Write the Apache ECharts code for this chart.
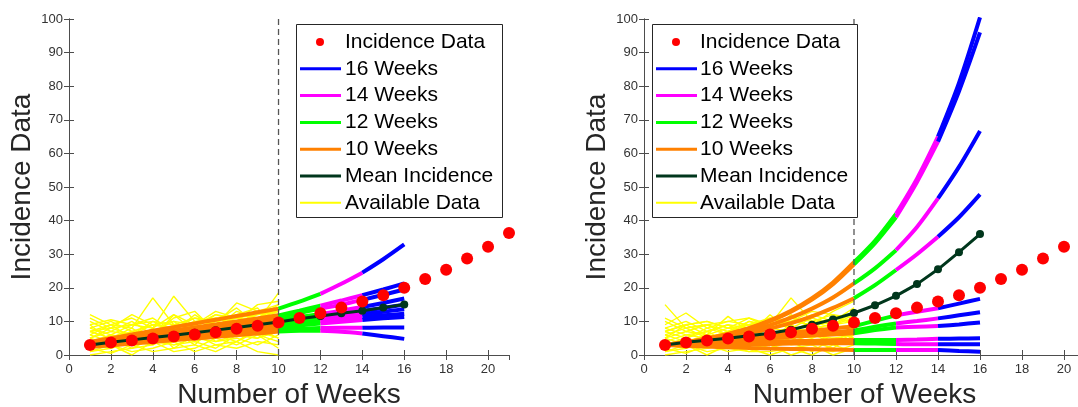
<!DOCTYPE html>
<html>
<head>
<meta charset="utf-8">
<script src="https://cdn.jsdelivr.net/npm/echarts@6/dist/echarts.min.js"></script>
<style>html,body{margin:0;padding:0;background:#fff}#c{width:1078px;height:407px}</style>
</head>
<body>
<div id="c"></div>
<script>
// ---------- data ----------
const weeks = [1,2,3,4,5,6,7,8,9,10,11,12,13,14,15,16,17,18,19,20,21];
const incidence = [3.0,3.7,4.3,4.9,5.5,6.1,6.8,7.8,8.7,9.7,11.0,12.4,14.1,15.9,17.8,20.0,22.6,25.4,28.7,32.2,36.3];
const meanLeft  = [3.0,3.8,4.5,5.2,5.9,6.6,7.4,8.2,9.0,9.8,10.8,11.6,12.4,13.2,14.1,15.0];
const meanRight = [3.0,3.8,4.4,5.0,5.7,6.5,7.5,9.0,10.6,12.5,14.8,17.6,21.1,25.5,30.6,36.0];

// forecast ensemble curves, values for weeks 1..16
const curvesLeft = [
  [3.9,5.0,6.1,7.2,8.3,9.4,10.5,11.6,12.7,13.8,15.9,18.2,21.2,24.5,28.5,32.9],
  [3.6,4.6,5.5,6.4,7.3,8.2,9.1,10.0,10.9,11.8,13.2,14.7,16.2,17.8,19.5,21.3],
  [3.5,4.4,5.3,6.2,7.0,7.9,8.8,9.6,10.5,11.3,12.5,13.8,15.0,16.4,17.9,19.5],
  [3.3,4.1,4.9,5.7,6.5,7.3,8.0,8.8,9.6,10.4,11.3,12.2,13.2,14.3,15.5,16.8],
  [3.2,3.9,4.6,5.4,6.1,6.8,7.6,8.3,9.0,9.8,10.6,11.4,12.2,13.1,14.0,15.0],
  [3.1,3.8,4.5,5.2,5.9,6.6,7.3,8.0,8.7,9.4,10.1,10.8,11.5,12.2,12.9,13.6],
  [3.0,3.7,4.3,5.0,5.6,6.3,6.9,7.6,8.2,8.9,9.5,10.1,10.7,11.3,11.8,12.3],
  [2.8,3.4,4.0,4.6,5.2,5.8,6.4,7.0,7.6,8.2,8.8,9.4,9.9,10.4,10.9,11.3],
  [2.6,3.1,3.7,4.2,4.8,5.3,5.9,6.4,7.0,7.5,7.8,8.0,8.1,8.1,8.2,8.2],
  [2.4,2.9,3.4,3.9,4.4,4.9,5.4,5.9,6.4,7.0,7.2,7.2,6.9,6.4,5.6,4.8]
];
const curvesRight = [
  [3.0,3.8,4.9,6.3,8.0,10.3,13.2,16.9,21.6,27.6,34.0,42.0,52.5,65.0,81.0,100.5],
  [3.0,3.8,4.9,6.2,7.9,10.1,12.9,16.5,21.1,27.0,33.3,41.0,51.5,63.5,78.5,96.0],
  [3.0,3.7,4.6,5.8,7.2,8.9,11.1,13.8,17.1,21.3,25.8,31.2,38.1,46.6,56.0,66.7],
  [3.0,3.6,4.4,5.3,6.5,7.9,9.5,11.5,14.0,16.9,20.8,25.3,30.0,35.2,41.0,47.8],
  [3.0,3.6,4.2,4.8,5.4,6.0,6.6,7.2,7.9,8.5,10.2,11.8,12.9,13.9,15.3,16.7],
  [3.0,3.5,3.9,4.4,4.9,5.3,5.8,6.3,6.8,7.3,8.4,9.4,10.1,10.9,11.8,12.7],
  [3.0,3.4,3.8,4.2,4.6,5.0,5.4,5.8,6.1,6.5,7.4,8.2,8.4,8.6,9.1,9.7],
  [3.0,3.2,3.4,3.6,3.8,4.0,4.1,4.2,4.4,4.5,4.5,4.5,4.6,4.8,4.9,5.0],
  [3.0,3.1,3.1,3.2,3.3,3.3,3.4,3.4,3.5,3.5,3.4,3.3,3.2,3.2,3.2,3.2],
  [3.0,2.7,2.5,2.3,2.1,1.9,1.8,1.7,1.6,1.5,1.5,1.5,1.5,1.5,1.2,1.0]
];

// available data trajectories, weeks 1..10
const availableLeft = [
  [12,9,8,17,9,8,10,9,11,14],
  [9,10.5,9,8,17.5,10,9,11,12,13],
  [7,8,12,9,10,9,13,11,10,18.5],
  [5,7,6,9,8,11,9,15.5,13,12],
  [3,5,7,6,9,8,12,10,15,16],
  [8,6,9,11,7,12,8,13,11,15],
  [2,4,3,6,5,7,6,8,9,11],
  [1,2,4,3,6,5,8,7,10,9],
  [0,1,2,5,3,4,2,6,5,8],
  [4,3,1,2,4,1,3,2,4,3],
  [6,9,5,7,10,6,11,9,7,10],
  [10,7,10,6,11,13,7,12,14,7],
  [2,0.5,3,1,2,3,1,4,1,0],
  [7,5,8,4,5,9,4,5,3,6],
  [1,3,0,4,1,2,5,3,6,2],
  [5,8,6,10,7,3,9,6,8,12],
  [3,6,4,8,2,6,3,4,7,5],
  [9,4,7,5,12,7,10,14,9,11],
  [4,6,5,7,6,9,7,9,8,10],
  [6,4,6,5,8,6,9,8,10,9],
  [8,10,7,9,8,10,11,10,12,13],
  [3,2,5,4,3,5,4,6,5,7],
  [11,8,9,10,9,11,10,12,11,13],
  [2,5,2,3,7,4,6,4,8,5],
  [7,9,11,8,12,9,12,11,13,15],
  [5,3,4,6,4,7,5,8,6,4]
];
const availableRight = [
  [15,8,9,7,10,9,17,10,12,11],
  [9,12.5,8,10,11,8,9,12,10,14],
  [7,9,10,8,9,11,10,9,13,16],
  [5,7,6,11.5,7,10,8,11,9,12],
  [3,5,8,6,8,7,12,8,11,10],
  [8,6,7,9,6,12,7,10,8,9],
  [2,4,3,5,4,6,5,7,6,8],
  [1,2,4,3,5,4,6,5,7,6],
  [0,1,2,4,3,2,4,1,5,4],
  [4,3,1,2,1,3,0,2,1,3],
  [6,8,5,7,9,5,9,6,4,7],
  [10,7,9,6,10,8,4,9,7,5],
  [2,0.5,3,1,2,0,2,0,3,1],
  [7,5,7,4,5,7,3,4,2,6],
  [1,3,0,3,1,1,2,3,0,2],
  [5,9,6,8,7,4,8,5,9,11],
  [4,6,5,7,6,8,7,8,9,10],
  [6,4,6,5,7,6,8,7,6,8],
  [8,10,7,9,8,9,10,9,11,12],
  [3,2,5,4,3,5,4,6,5,6],
  [11,8,9,10,9,10,11,10,9,13],
  [2,5,2,3,6,3,5,3,7,4],
  [7,9,10,8,11,9,10,13,12,9],
  [5,3,4,6,4,6,5,7,4,3]
];

const legendNames = ['Incidence Data','16 Weeks','14 Weeks','12 Weeks','10 Weeks','Mean Incidence','Available Data'];
const xAxisName = 'Number of Weeks';
const yAxisName = 'Incidence Data';
const cutoffWeek = 10;

// ---------- styling ----------
const C = {red:'#ff0000', blue:'#0000ff', magenta:'#ff00ff', green:'#00ff00', orange:'#ff8000', mean:'#00361c', yellow:'#ffff00'};
const legendColors = [C.red, C.blue, C.magenta, C.green, C.orange, C.mean, C.yellow];
const FONT = 'Liberation Sans, Arial, Helvetica, sans-serif';
const segments = [[1,10,C.orange],[10,12,C.green],[12,14,C.magenta],[14,16,C.blue]];

function seg(curve, from, to) {
  const out = [];
  for (let w = from; w <= to; w++) out.push([w, curve[w-1]]);
  return out;
}

const series = [];
function addPanel(gi, avail, curves, mean) {
  const ax = {xAxisIndex: gi*2, yAxisIndex: gi*2};
  avail.forEach(a => series.push(Object.assign({
    type:'line', name:'Available Data', data:a.map((v,i)=>[weeks[i], v]),
    symbol:'none', lineStyle:{color:C.yellow, width:1.4}, silent:true, z:2
  }, ax)));
  segments.forEach(([f,t,col]) => curves.forEach(c => series.push(Object.assign({
    type:'line', data:seg(c,f,t), symbol:'none', smooth:0.3,
    lineStyle:{color:col, width:4}, silent:true, z:3
  }, ax))));
  series.push(Object.assign({
    type:'line', data:[[cutoffWeek,0],[cutoffWeek,100]], symbol:'none',
    lineStyle:{color:'#555', width:1.3, type:[6,4]}, silent:true, z:4
  }, ax));
  series.push(Object.assign({
    type:'line', name:'Mean Incidence', data:mean.map((v,i)=>[weeks[i], v]),
    symbol:'circle', symbolSize:8, itemStyle:{color:C.mean, opacity:1},
    lineStyle:{color:C.mean, width:3}, z:5
  }, ax));
  series.push(Object.assign({
    type:'scatter', name:'Incidence Data', data:incidence.map((v,i)=>[weeks[i], v]),
    symbol:'circle', symbolSize:12, itemStyle:{color:C.red, opacity:1}, z:6
  }, ax));
}
addPanel(0, availableLeft, curvesLeft, meanLeft);
addPanel(1, availableRight, curvesRight, meanRight);

const grids = [
  {left:69, top:19, width:440, height:336, containLabel:false, outerBoundsMode:'none'},
  {left:644, top:19, width:441, height:336, containLabel:false, outerBoundsMode:'none'}
];
const axisLineStyle = {color:'#4d4d4d', width:1};
const xAxes = [], yAxes = [];
grids.forEach((g, gi) => {
  xAxes.push({
    type:'value', gridIndex:gi, min:0, max:21, interval:2, position:'bottom',
    name:xAxisName, nameLocation:'middle', nameGap:22,
    nameTextStyle:{fontSize:28, color:'#262626', fontFamily:FONT},
    axisLine:{show:true, lineStyle:axisLineStyle},
    axisTick:{show:true, inside:true, length:5, lineStyle:axisLineStyle},
    axisLabel:{color:'#333', fontSize:13, margin:8, fontFamily:FONT, showMaxLabel:false,
      formatter:v => (v % 2 === 0 ? String(v) : '')},
    splitLine:{show:false}
  });
  xAxes.push({
    type:'value', gridIndex:gi, min:0, max:21, interval:2, position:'top',
    axisLine:{show:true, lineStyle:axisLineStyle},
    axisTick:{show:true, inside:true, length:5, lineStyle:axisLineStyle},
    axisLabel:{show:false}, splitLine:{show:false}
  });
  yAxes.push({
    type:'value', gridIndex:gi, min:0, max:100, interval:10, position:'left',
    name:yAxisName, nameLocation:'middle', nameGap:33, nameRotate:90,
    nameTextStyle:{fontSize:28, color:'#262626', fontFamily:FONT},
    axisLine:{show:true, lineStyle:axisLineStyle},
    axisTick:{show:true, inside:true, length:5, lineStyle:axisLineStyle},
    axisLabel:{color:'#333', fontSize:13, margin:6, fontFamily:FONT},
    splitLine:{show:false}
  });
  yAxes.push({
    type:'value', gridIndex:gi, min:0, max:100, interval:10, position:'right',
    axisLine:{show:true, lineStyle:axisLineStyle},
    axisTick:{show:true, inside:true, length:5, lineStyle:axisLineStyle},
    axisLabel:{show:false}, splitLine:{show:false}
  });
});

// ---------- legends (drawn as graphic) ----------
const graphic = [];
function addLegend(boxX, boxW, sampleX, textX) {
  const top = 24, h = 193, rowH = 26.8, firstY = 42;
  graphic.push({type:'rect', z:100, shape:{x:boxX+0.5, y:top+0.5, width:boxW, height:h},
    style:{fill:'#fff', stroke:'#262626', lineWidth:1}});
  legendNames.forEach((nm, i) => {
    const cy = firstY + i*rowH;
    if (i === 0) {
      graphic.push({type:'circle', z:101, shape:{cx:sampleX+20, cy:cy, r:4}, style:{fill:legendColors[i]}});
    } else {
      graphic.push({type:'line', z:101, shape:{x1:sampleX, y1:cy, x2:sampleX+41, y2:cy},
        style:{stroke:legendColors[i], lineWidth: i === 6 ? 2 : 3}});
    }
    graphic.push({type:'text', z:101, x:textX, y:cy,
      style:{text:nm, fontSize:21, fill:'#000', fontFamily:FONT, verticalAlign:'middle', align:'left'}});
  });
}
addLegend(296, 206, 300, 345);
addLegend(652, 205, 656, 700);

const chart = echarts.init(document.getElementById('c'), null, {renderer:'canvas'});
chart.setOption({
  animation:false,
  backgroundColor:'#fff',
  grid:grids,
  xAxis:xAxes,
  yAxis:yAxes,
  series:series,
  graphic:graphic
});
</script>
</body>
</html>
